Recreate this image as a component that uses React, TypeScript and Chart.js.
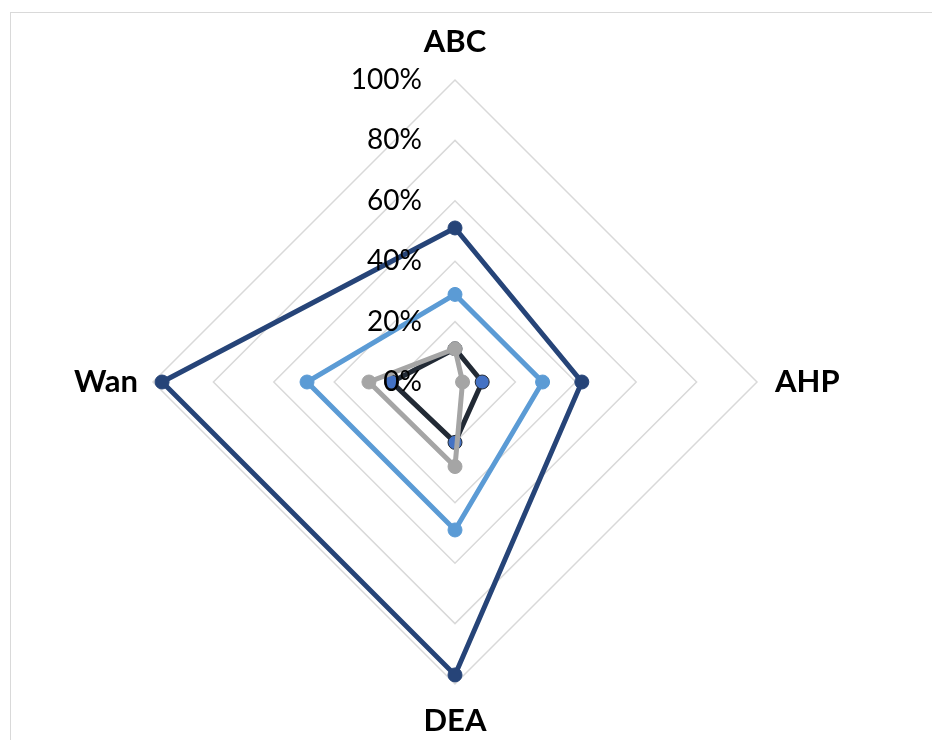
import React, { useEffect, useRef } from "react";
import { Chart, registerables } from "chart.js";

Chart.register(...registerables);

const categories = ["ABC", "AHP", "DEA", "Wan"];
const tickValues = [0, 0.2, 0.4, 0.6, 0.8, 1.0];
const tickLabels = ["0%", "20%", "40%", "60%", "80%", "100%"];
const seriesNavy = [0.51, 0.42, 0.97, 0.97];
const seriesLightBlue = [0.29, 0.29, 0.49, 0.49];
const seriesDark = [0.11, 0.09, 0.2, 0.21];
const seriesGray = [0.11, 0.025, 0.28, 0.285];

const labelPlugin = {
  id: "excelLabels",
  afterDatasetsDraw(chart: any) {
    const scale = chart.scales.r;
    const ctx = chart.ctx;
    const cx = scale.xCenter;
    const cy = scale.yCenter;
    ctx.save();
    ctx.fillStyle = "#000000";
    ctx.font = "28px Lato";
    ctx.textAlign = "right";
    ctx.textBaseline = "middle";
    tickValues.forEach((v, i) => {
      const d = scale.getDistanceFromCenterForValue(v);
      ctx.fillText(tickLabels[i], cx - 33, cy - d);
    });
    ctx.font = "bold 31px Lato";
    const R = scale.getDistanceFromCenterForValue(1);
    categories.forEach((c, i) => {
      const p = scale.getPointPosition(i, R);
      let x = p.x;
      let y = p.y;
      if (i === 0) {
        ctx.textAlign = "center";
        y = p.y - 38;
      } else if (i === 1) {
        ctx.textAlign = "left";
        x = p.x + 18;
      } else if (i === 2) {
        ctx.textAlign = "center";
        y = p.y + 37;
      } else {
        ctx.textAlign = "right";
        x = p.x - 15;
      }
      ctx.fillText(c, x, y);
    });
    ctx.restore();
  },
};

function ds(label: string, data: number[], line: string, fillPt: string, edge: string) {
  return {
    label,
    data,
    borderColor: line,
    backgroundColor: fillPt,
    pointBackgroundColor: fillPt,
    pointBorderColor: edge,
    borderWidth: 5,
    pointRadius: 7,
    pointBorderWidth: 1,
    fill: false,
  };
}

export default function App() {
  const ref = useRef<HTMLCanvasElement | null>(null);
  useEffect(() => {
    if (!ref.current) return;
    const chart = new Chart(ref.current, {
      type: "radar",
      data: {
        labels: categories,
        datasets: [
          ds("Gray", seriesGray, "#A5A5A5", "#A5A5A5", "#A5A5A5"),
          ds("Dark", seriesDark, "#222A35", "#4472C4", "#222A35"),
          ds("LightBlue", seriesLightBlue, "#5B9BD5", "#5B9BD5", "#5B9BD5"),
          ds("Navy", seriesNavy, "#264478", "#264478", "#264478"),
        ],
      },
      options: {
        responsive: false,
        animation: false,
        layout: { padding: { left: 153, right: 175, top: 80, bottom: 56 } },
        plugins: { legend: { display: false }, tooltip: { enabled: false } },
        elements: { line: { tension: 0 } },
        scales: {
          r: {
            min: 0,
            max: 1,
            ticks: { display: false, stepSize: 0.2 },
            grid: { color: "#D9D9D9", lineWidth: 1.5 },
            angleLines: { display: false },
            pointLabels: { display: false },
          },
        },
      },
      plugins: [labelPlugin],
    });
    return () => chart.destroy();
  }, []);

  return (
    <div style={{ position: "fixed", left: 0, top: 0, width: 932, height: 740, overflow: "hidden", background: "#ffffff" }}>
      <div
        style={{
          position: "absolute",
          left: 10,
          top: 12,
          width: 1000,
          height: 1000,
          border: "1px solid #D9D9D9",
        }}
      />
      <canvas ref={ref} width={932} height={740} style={{ position: "absolute", left: 0, top: 0 }} />
    </div>
  );
}
